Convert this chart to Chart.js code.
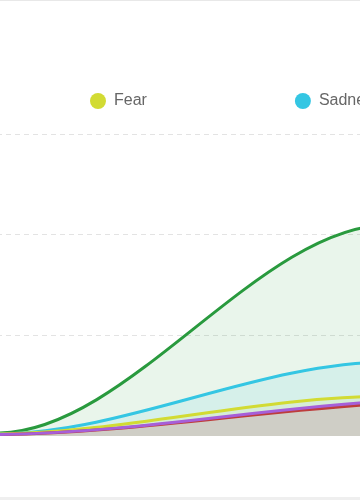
<!DOCTYPE html>
<html>
<head>
<meta charset="utf-8">
<script src="https://cdn.jsdelivr.net/npm/chart.js@4.4.1/dist/chart.umd.min.js"></script>
<style>
  html, body { margin: 0; padding: 0; background: #fff; }
  #view { position: relative; width: 360px; height: 500px; overflow: hidden; }
  /* the picture is a crop of a wider chart, so the chart box sits partly outside the view */
  #wrap { position: absolute; left: -552px; top: -55px; width: 1332px; height: 491px; }
  .edge-top { position: absolute; left: 0; top: 0; width: 360px; height: 1px; background: #e8e8e8; }
  .edge-bottom { position: absolute; left: 0; top: 497px; width: 360px; height: 3px; background: #efefef; }
</style>
</head>
<body>
<div id="view">
  <div id="wrap"><canvas id="toneChart"></canvas></div>
  <div class="edge-top"></div>
  <div class="edge-bottom"></div>
</div>
<script>
const labels = ['Week 1', 'Week 2', 'Week 3', 'Week 4'];
const disgust = [0, 0.3, 7.0, 9.6];
const anger = [0, 0.3, 6.5, 9.0];
const fear = [0, 0.4, 7.9, 7.6];
const sadness = [0, 0.4, 14.7, 13.5];
const joy = [0, 0.6, 42.0, 38.0];
const yTicks = [0, 20, 40, 60];

function series(label, data, color, fill) {
  return {
    label: label,
    data: data,
    borderColor: color,
    backgroundColor: fill,
    borderWidth: 3,
    fill: 'origin',
    pointRadius: 0,
    cubicInterpolationMode: 'monotone'
  };
}

const ctx = document.getElementById('toneChart');

var chart = new Chart(ctx, {
  type: 'line',
  data: {
    labels: labels,
    datasets: [
      series('Disgust', disgust, '#a65fd9', 'rgba(166,95,217,0.1)'),
      series('Anger', anger, '#c0392b', 'rgba(192,57,43,0.1)'),
      series('Fear', fear, '#d2db33', 'rgba(210,219,51,0.1)'),
      series('Sadness', sadness, '#34c6e3', 'rgba(52,198,227,0.1)'),
      series('Joy', joy, '#299a3e', 'rgba(41,154,62,0.1)')
    ]
  },
  options: {
    responsive: true,
    maintainAspectRatio: false,
    animation: false,
    layout: { autoPadding: false, padding: 0 },
    plugins: {
      tooltip: { enabled: false },
      legend: {
        position: 'top',
        labels: {
          usePointStyle: true,
          pointStyle: 'circle',
          boxWidth: 16,
          boxHeight: 11.3,
          padding: 148,
          color: '#666',
          font: { size: 16, family: '"Liberation Sans", Arial, sans-serif' },
          generateLabels: function(chart) {
            var items = Chart.defaults.plugins.legend.labels.generateLabels(chart);
            items.forEach(function(it) {
              it.fillStyle = it.strokeStyle;
              it.lineWidth = 0;
            });
            return items;
          }
        }
      }
    },
    scales: {
      x: {
        display: false
      },
      y: {
        min: 0,
        max: 63,
        afterFit: function(scale) { scale.width = 162; },
        afterBuildTicks: function(scale) {
          scale.ticks = yTicks.map(function(v) { return { value: v }; });
        },
        ticks: { display: false },
        grid: { color: '#e3e3e3', lineWidth: 1 },
        border: { display: false, dash: [5, 4] }
      }
    }
  }
});
</script>
</body>
</html>
